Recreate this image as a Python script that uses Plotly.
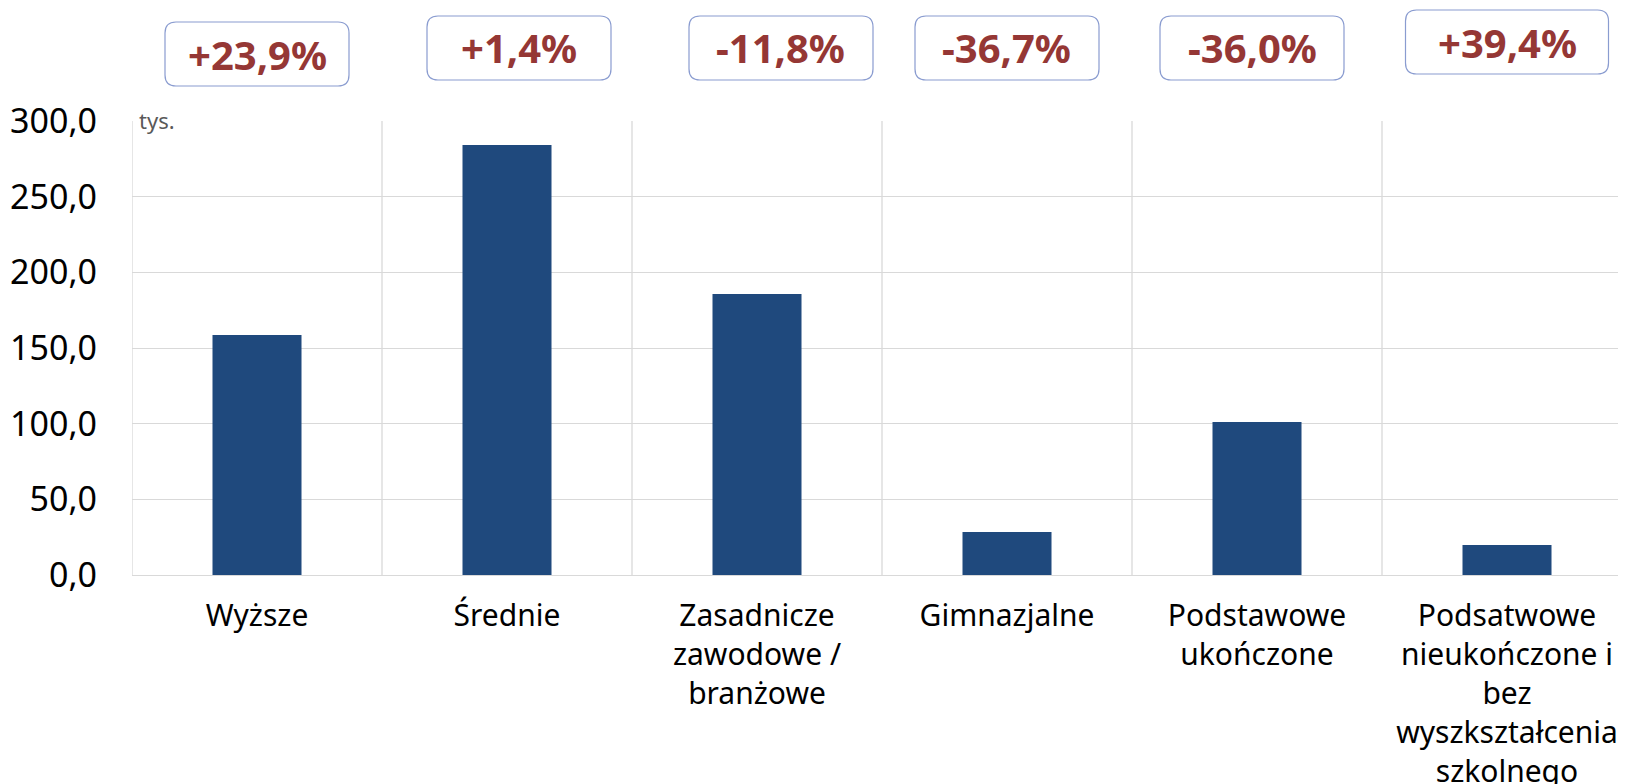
import plotly.graph_objects as go

categories = [
    "Wyższe",
    "Średnie",
    "Zasadnicze<br>zawodowe /<br>branżowe",
    "Gimnazjalne",
    "Podstawowe<br>ukończone",
    "Podsatwowe<br>nieukończone i<br>bez<br>wyszkształcenia<br>szkolnego",
]
values = [158.6, 284.1, 185.7, 28.4, 101.1, 19.8]
changes = ["+23,9%", "+1,4%", "-11,8%", "-36,7%", "-36,0%", "+39,4%"]

# page body margin shifts the figure by 8px
OFF = 8
W, H = 1626 - OFF, 784 - OFF
ML, MT, MB = 132 - OFF, 121 - OFF, 209
plot_w = W - ML
plot_h = H - MT - MB
x_range = [-0.5, -0.5 + plot_w / 250]

# box placement (px offsets from category centre, window px centre y, px width)
box_dx = [0, 12, 24, 0, -5, 0]
box_cy = [54, 48, 48, 48, 48, 42]
box_w = [184, 184, 184, 184, 184, 203]
box_h = 64
radius = 11

fig = go.Figure(go.Bar(
    x=list(range(len(categories))), y=values, width=0.356,
    marker=dict(color="#1F497D", line=dict(width=0)),
    hoverinfo="y",
))


def to_px(i):
    return (i - x_range[0]) / (x_range[1] - x_range[0])


shapes = []
annotations = []
for i, txt in enumerate(changes):
    cx = to_px(i) + box_dx[i] / plot_w
    cy = (H - MB - (box_cy[i] - OFF)) / plot_h
    hw = box_w[i] / 2 / plot_w
    hh = box_h / 2 / plot_h
    rx = radius / plot_w
    ry = radius / plot_h
    x0, x1, y0, y1 = cx - hw, cx + hw, cy - hh, cy + hh
    path = (f"M {x0+rx},{y0} L {x1-rx},{y0} Q {x1},{y0} {x1},{y0+ry} "
            f"L {x1},{y1-ry} Q {x1},{y1} {x1-rx},{y1} L {x0+rx},{y1} "
            f"Q {x0},{y1} {x0},{y1-ry} L {x0},{y0+ry} Q {x0},{y0} {x0+rx},{y0} Z")
    shapes.append(dict(type="path", path=path, xref="paper", yref="paper",
                       line=dict(color="#8A9CD0", width=1.2), fillcolor="white"))
    annotations.append(dict(x=cx, y=cy, xref="paper", yref="paper", text=f"<b>{txt}</b>",
                            showarrow=False, xanchor="center", yanchor="middle",
                            font=dict(family="Noto Sans", size=40, color="#953735")))

annotations.append(dict(x=0, y=1, xref="paper", yref="paper", text="tys.", showarrow=False,
                        xanchor="left", yanchor="middle", xshift=5, yshift=1,
                        font=dict(family="Noto Sans", size=22, color="#595959")))

fig.update_layout(
    width=W, height=H,
    margin=dict(l=ML, r=0, t=MT, b=MB, pad=0),
    plot_bgcolor="white", paper_bgcolor="white",
    showlegend=False, bargap=0.64,
    separators=", ",
    font=dict(family="Noto Sans", color="black"),
    shapes=shapes, annotations=annotations,
    xaxis=dict(
        range=x_range, tickmode="array", tickvals=list(range(len(categories))),
        ticktext=categories, showgrid=False, zeroline=False, showline=False,
        ticks="", tickfont=dict(size=30), ticklabelstandoff=20, automargin=False,
    ),
    yaxis=dict(
        range=[0, 300], dtick=50, tickformat=".1f", showgrid=True,
        gridcolor="#D9D9D9", gridwidth=1.3, zeroline=True, zerolinecolor="#D9D9D9",
        zerolinewidth=1.3, showline=False, ticks="", tickfont=dict(size=34),
        ticklabelstandoff=34, automargin=False,
    ),
)

# vertical separators between categories
for b in range(len(categories) + 1):
    fig.add_shape(type="line", xref="x", yref="paper", x0=b - 0.5, x1=b - 0.5, y0=0, y1=1,
                  line=dict(color="#D9D9D9", width=1.3), layer="below")

fig.write_html("out.html")
